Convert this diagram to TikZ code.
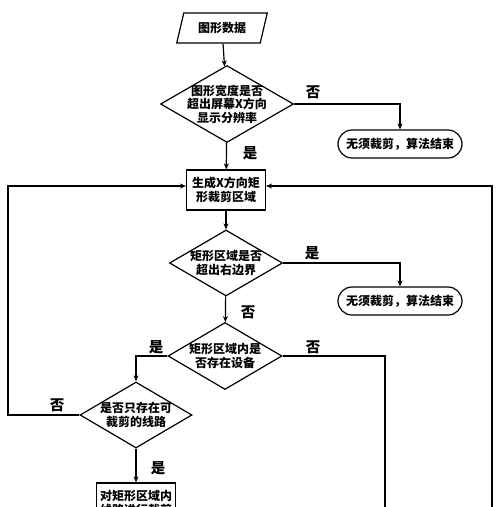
\documentclass[tikz,border=0pt]{standalone}
\usepackage{fontspec}
\setmainfont{Noto Sans CJK SC}
\usetikzlibrary{shapes.geometric,arrows.meta,calc}
\begin{document}
\begin{tikzpicture}[x=1pt,y=-1pt, font=\bfseries\fontsize{12}{13.5}\selectfont, line width=1.2pt,
 base/.style={draw, align=center, inner sep=0pt},
 dia/.style={base, diamond, inner sep=-6pt},
 proc/.style={base, rectangle, minimum width=79pt, minimum height=40pt},
 term/.style={base, rectangle, rounded corners=14pt, minimum width=124pt, minimum height=28pt},
 io/.style={base, trapezium, trapezium left angle=69, trapezium right angle=111, trapezium stretches=true, minimum width=91pt, minimum height=30pt},
 arr/.style={-{Stealth[length=6pt,width=5pt]}},
 lab/.style={font=\bfseries\fontsize{14.5}{14.5}\selectfont, inner sep=0pt}]
\useasboundingbox (0,0) rectangle (500,507);
\fill[white] (0,0) rectangle (500,507);
\clip (0,0) rectangle (500,507);

\node[io] (data) at (222,28) {图形数据};
\node[dia, aspect=1.73, minimum width=133pt, minimum height=77pt] (d1) at (227,104) {图形宽度是否\\超出屏幕X方向\\显示分辨率};
\node[term] (e1) at (400,144) {无须裁剪，算法结束};
\node[proc] (b1) at (226,190) {生成X方向矩\\形裁剪区域};
\node[dia, aspect=1.71, minimum width=113pt, minimum height=66pt] (d2) at (226,263) {矩形区域是否\\超出右边界};
\node[term] (e2) at (400,301) {无须裁剪，算法结束};
\node[dia, aspect=1.71, minimum width=114pt, minimum height=67pt] (d3) at (225,356) {矩形区域内是\\否存在设备};
\node[dia, aspect=1.71, minimum width=112pt, minimum height=66pt] (d4) at (136,415) {是否只存在可\\裁剪的线路};
\node[proc] (b5) at (136,503) {对矩形区域内\\线路进行裁剪};

\draw[arr] (data) -- (d1);
\draw[arr] (d1.east) -| (e1.north);
\draw[arr] (d1) -- (b1);
\draw[arr] (b1) -- (d2);
\draw[arr] (d2.east) -| (e2.north);
\draw[arr] (d2) -- (d3);
\draw[arr] (d3.west) -| (d4.north);
\draw[arr] (d4) -- (b5);
\coordinate (lt) at (8,186);
\draw[arr] (d4.west) -| (lt) -- (b1.west |- lt);
\coordinate (r1) at (385,530);
\draw (d3.east) -| (r1);
\coordinate (r2) at (492,530);
\coordinate (rt) at (492,186);
\draw[arr] (r2) -- (rt) -- (b1.east |- rt);

\node[lab] (l1) at (313,92) {否};
\node[lab] (l2) at (250,153) {是};
\node[lab] (l3) at (312,253) {是};
\node[lab] (l4) at (248,312) {否};
\node[lab] (l5) at (156,347) {是};
\node[lab] (l6) at (313,347) {否};
\node[lab] (l7) at (57,405) {否};
\node[lab] (l8) at (158,468) {是};
\end{tikzpicture}
\end{document}
